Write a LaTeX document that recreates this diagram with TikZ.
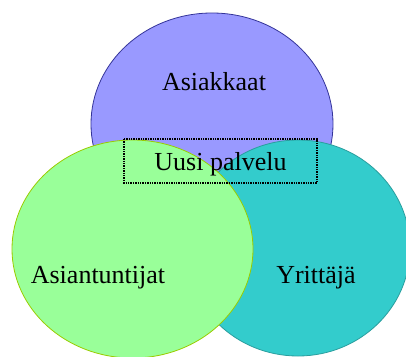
\documentclass[tikz,border=0pt]{standalone}
\usepackage{fontspec}
\setmainfont{Liberation Serif}
\usepackage{xcolor}
\usetikzlibrary{positioning}

\definecolor{asiakasfill}{HTML}{9999FF}
\definecolor{asiakasline}{HTML}{333399}
\definecolor{tuntijafill}{HTML}{99FF99}
\definecolor{tuntijaline}{HTML}{99CC00}
\definecolor{yrittajafill}{HTML}{33CCCC}
\definecolor{yrittajaline}{HTML}{2A9E9E}

\begin{document}
\begin{tikzpicture}[x=1pt, y=-1pt, every node/.style={font=\fontsize{26}{30}\selectfont}]
    \useasboundingbox (0,0) rectangle (406,356);
    \clip (0,0) rectangle (406,356);
    \draw[line width=0.8pt, draw=asiakasline, fill=asiakasfill] (212,124) ellipse [x radius=121, y radius=111];
    \draw[line width=0.8pt, draw=yrittajaline, fill=yrittajafill] (298,248) ellipse [x radius=112, y radius=108];
    \draw[line width=0.8pt, draw=tuntijaline, fill=tuntijafill] (132.5,249) ellipse [x radius=120.5, y radius=109];
    \node[anchor=base] (asiakkaat) at (214,90) {Asiakkaat};
    \node[anchor=base] (asiantuntijat) at (98,283) {Asiantuntijat};
    \node[anchor=base] (yrittaja) at (316,283) {Yrittäjä};
    \draw[line width=1.4pt, densely dotted] (124,139) rectangle (317,183) node[midway, yshift=-3pt] (palvelu) {Uusi palvelu};
  \end{tikzpicture}
\end{document}
